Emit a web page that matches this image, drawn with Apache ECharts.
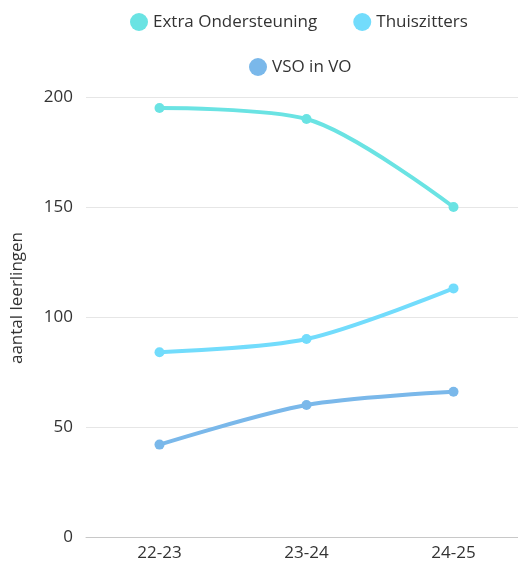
<!DOCTYPE html>
<html><head><meta charset="utf-8">
<script src="https://cdn.jsdelivr.net/npm/echarts@6/dist/echarts.min.js"></script>
<style>html,body{margin:0;padding:0;background:#fff}#c{width:518px;height:563px}</style>
</head><body><div id="c"></div>
<script>
const categories = ['22-23', '23-24', '24-25'];
const extraOndersteuning = [195, 190, 150];
const thuiszitters = [84, 90, 113];
const vsoInVo = [42, 60, 66];
const yTicks = { min: 0, max: 200, interval: 50 };
const yName = 'aantal leerlingen';

const font = '"Open Sans", sans-serif';
const colors = ['#6ae3e3', '#72dcfc', '#7ab8ea'];
const chart = echarts.init(document.getElementById('c'));
const mk = (name, data, color) => ({
  name, type: 'line', data, smooth: 0.3, color,
  symbol: 'circle', symbolSize: 10,
  lineStyle: { width: 4, color }, itemStyle: { color },
  emphasis: { disabled: true }
});
const legendBase = {
  icon: 'circle', itemWidth: 18, itemHeight: 18, itemGap: 36,
  textStyle: { fontFamily: font, fontSize: 17, color: '#333' }
};
chart.setOption({
  animation: false,
  legend: [
    Object.assign({}, legendBase, { data: ['Extra Ondersteuning', 'Thuiszitters'], left: 125, top: 8 }),
    Object.assign({}, legendBase, { data: ['VSO in VO'], left: 244, top: 53 })
  ],
  grid: { left: 86, width: 441, top: 97, bottom: 26, containLabel: false, outerBoundsMode: 'none' },
  xAxis: {
    type: 'category', data: categories, boundaryGap: true,
    axisLine: { lineStyle: { color: '#c8c8c8' } },
    axisTick: { show: false },
    axisLabel: { fontFamily: font, fontSize: 17, color: '#333', margin: 8 }
  },
  yAxis: {
    type: 'value', min: yTicks.min, max: yTicks.max, interval: yTicks.interval,
    name: yName, nameLocation: 'middle', nameGap: 60,
    nameTextStyle: { fontFamily: font, fontSize: 17, color: '#333', padding: [0, 0, 0, 38] },
    axisLine: { show: false }, axisTick: { show: false },
    axisLabel: { fontFamily: font, fontSize: 17, color: '#333', margin: 13 },
    splitLine: { lineStyle: { color: '#e6e6e6' } }
  },
  series: [
    mk('Extra Ondersteuning', extraOndersteuning, colors[0]),
    mk('Thuiszitters', thuiszitters, colors[1]),
    mk('VSO in VO', vsoInVo, colors[2])
  ]
});
</script></body></html>
